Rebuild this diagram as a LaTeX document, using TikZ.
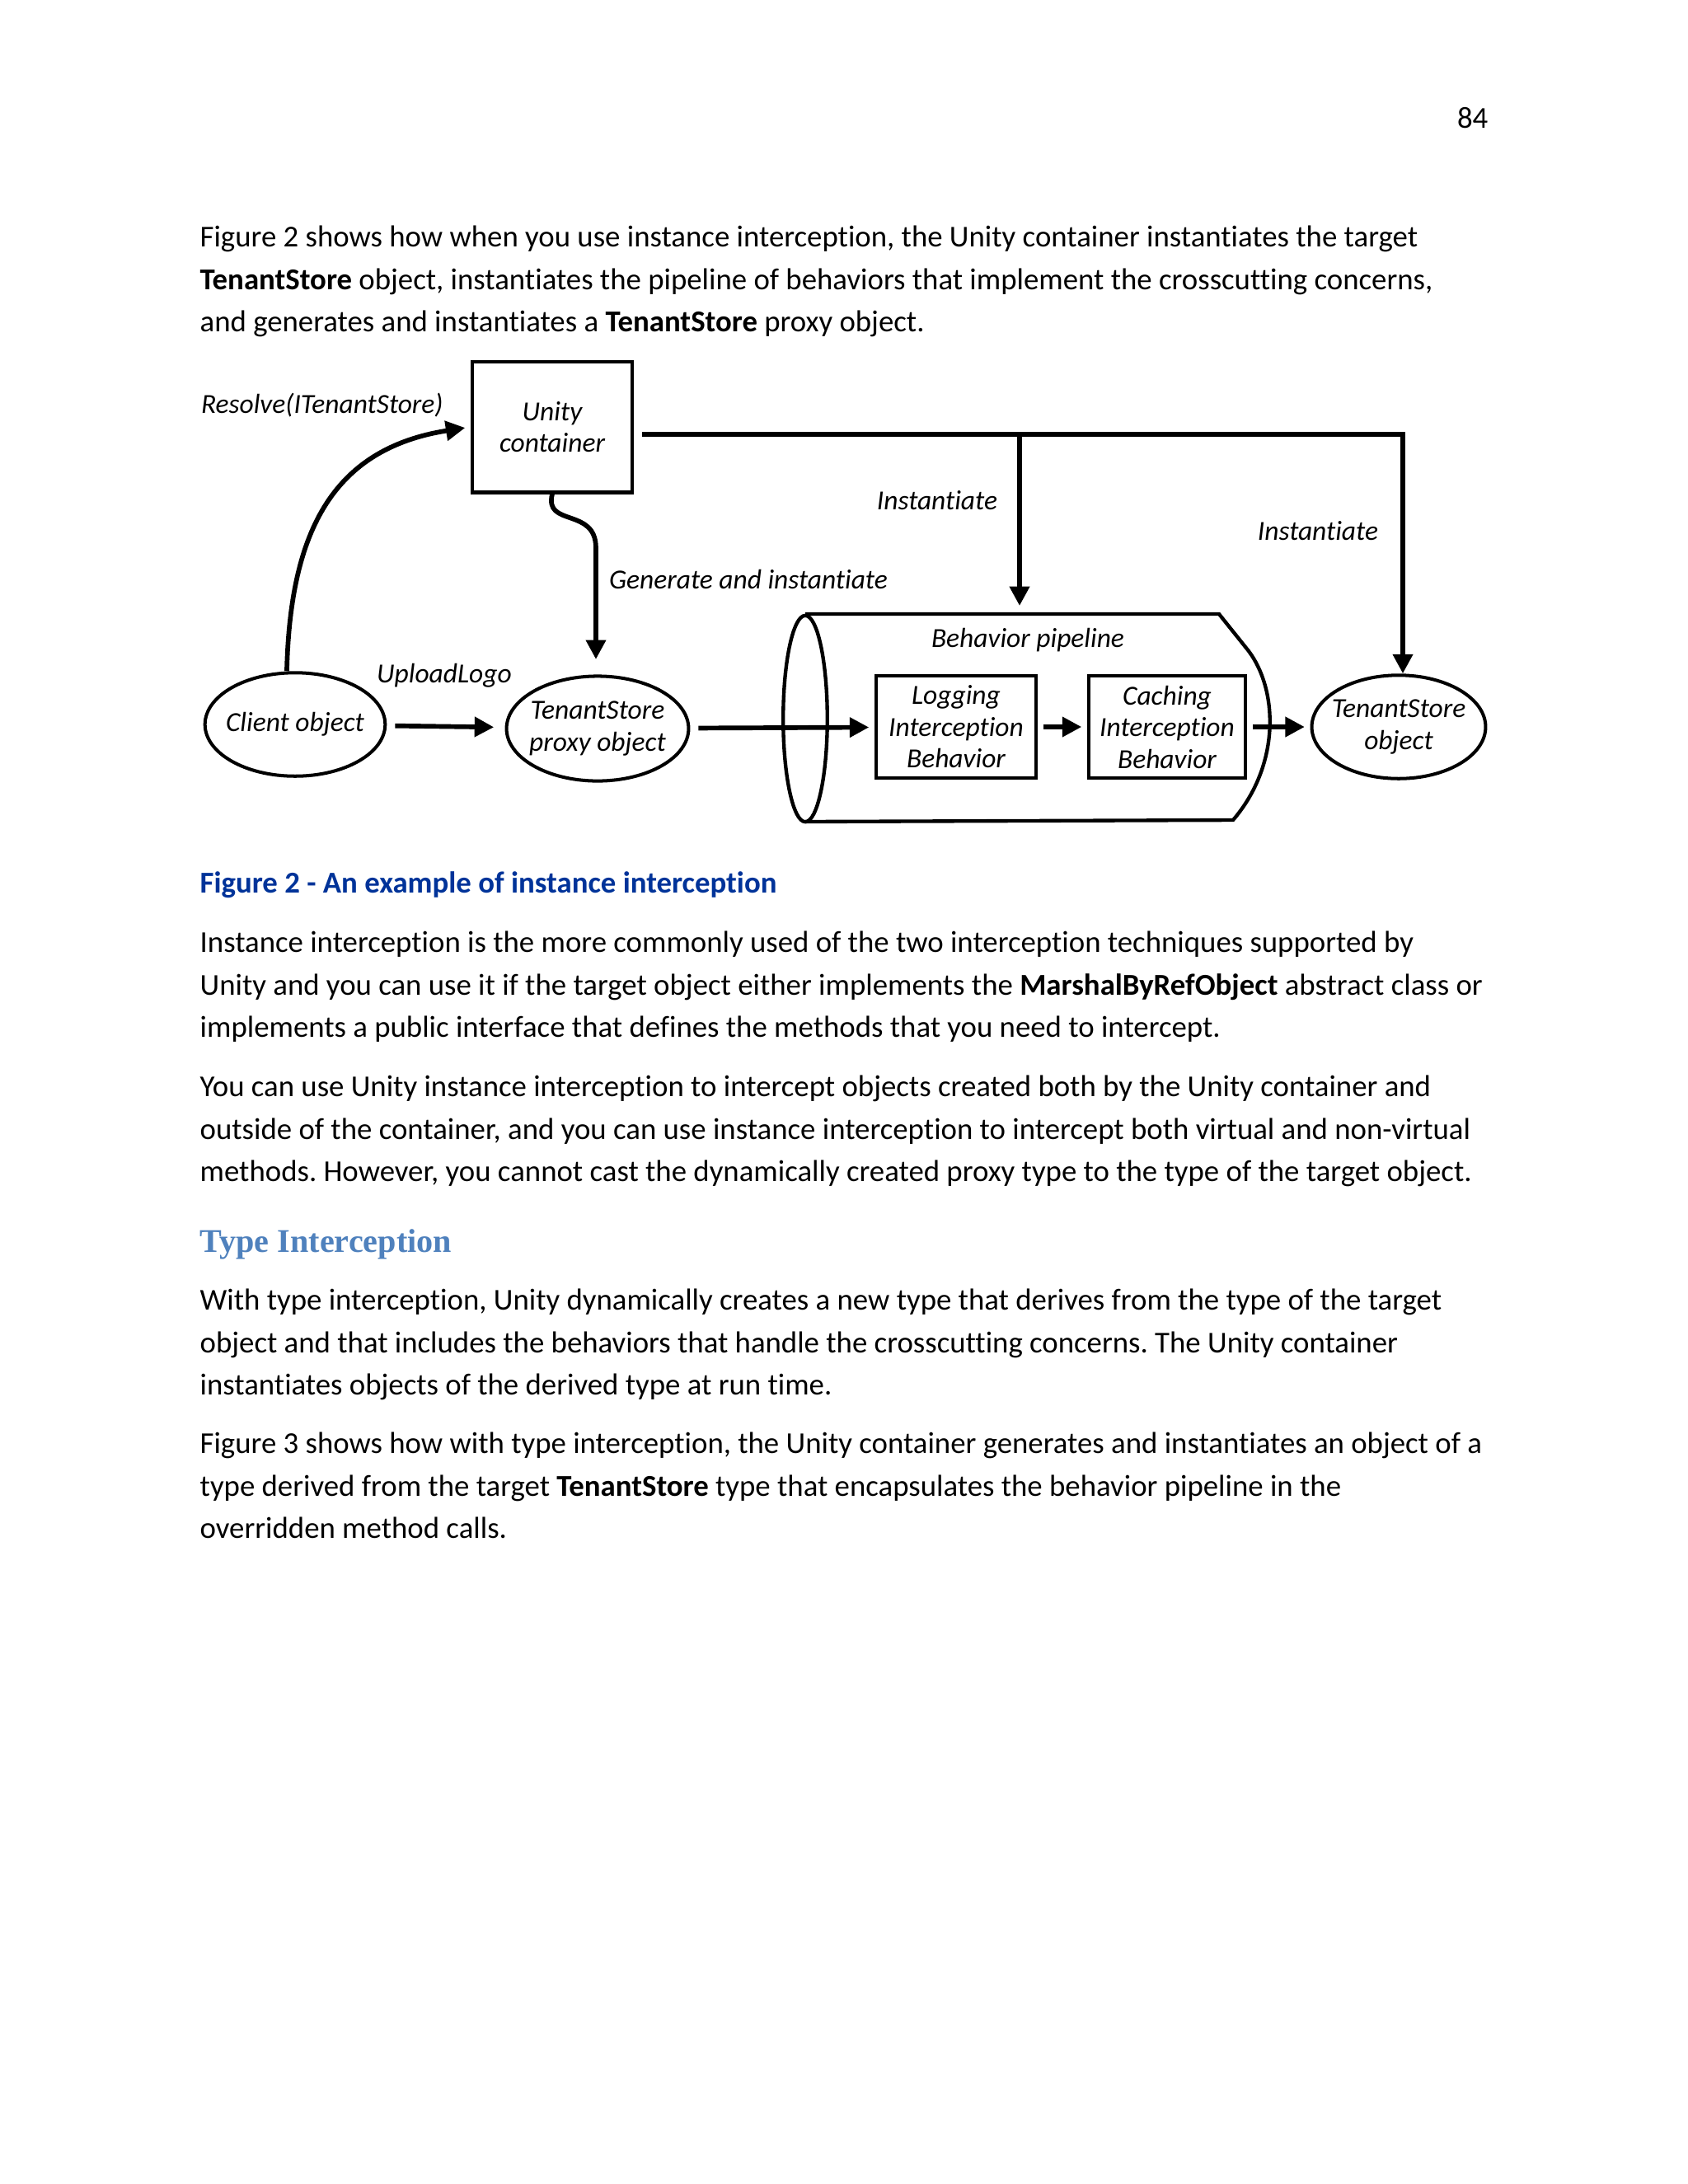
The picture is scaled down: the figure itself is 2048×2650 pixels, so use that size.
\documentclass[tikz,border=0pt]{standalone}
\usepackage{fontspec}
\setmainfont{Carlito}[Ligatures=NoCommon]
\newfontfamily\headfont{Liberation Serif}
\usetikzlibrary{arrows.meta,shapes.geometric}
\frenchspacing

\definecolor{captionblue}{RGB}{0,51,153}
\definecolor{headblue}{RGB}{79,129,189}

\newcommand{\bodyfont}{\fontsize{11pt}{15pt}\selectfont}
\newcommand{\sketchfont}{\fontsize{10pt}{11.5pt}\selectfont\itshape}

\tikzset{
  bodytext/.style={anchor=base west, inner sep=0pt, font=\bodyfont},
  sketch/.style={font=\sketchfont, align=center, inner sep=1pt},
  objnode/.style={draw, ellipse, line width=1.2pt, sketch, inner xsep=-2pt, inner ysep=0pt},
  boxnode/.style={draw, rectangle, line width=1.2pt, sketch},
  flow/.style={-{Triangle[length=7pt,width=7pt]}, line width=1.7pt},
}

\begin{document}
\begin{tikzpicture}[x=0.29883pt, y=-0.29883pt]
    \useasboundingbox (0,0) rectangle (2048,2650);

    % Numéro de page
    \node[anchor=base east, inner sep=0pt, font=\bodyfont] (pagenum) at (1806,155.5) {84};

    % Texte avant la figure
    \node[bodytext] (l1) at (242,299.5) {Figure 2 shows how when you use instance interception, the Unity container instantiates the target};
    \node[bodytext] (l2) at (242,351) {\textbf{TenantStore} object, instantiates the pipeline of behaviors that implement the crosscutting concerns,};
    \node[bodytext] (l3) at (242,402.5) {and generates and instantiates a \textbf{TenantStore} proxy object.};

    % Figure : conteneur Unity
    \node[boxnode, minimum width=58pt, minimum height=47.5pt] (unity) at (670,518) {Unity\\container};
    \node[sketch, anchor=west] (resolve) at (240,492) {Resolve(ITenantStore)};

    % Objets
    \node[objnode, minimum width=61.5pt, minimum height=37.5pt] (client) at (358,879) {Client object};
    \node[objnode, minimum width=66pt, minimum height=38pt] (proxy) at (725,884) {TenantStore\\proxy object};
    \node[objnode, minimum width=63pt, minimum height=37.5pt] (tsobj) at (1697,882) {TenantStore\\object};

    % Pipeline de comportements
    \draw[line width=1.3pt] (977,745) -- (1479,745) -- (1515,790)
        .. controls (1552,840) and (1552,930) .. (1496,995) -- (977,997);
    \draw[line width=1.3pt] (977,872) ellipse [x radius=8pt, y radius=37.4pt];
    \node[sketch] (pipelabel) at (1247,777) {Behavior pipeline};
    \node[boxnode, minimum width=58pt, minimum height=36.8pt] (logging) at (1160,882) {Logging\\Interception\\Behavior};
    \node[boxnode, minimum width=56.8pt, minimum height=37.2pt] (caching) at (1416,882) {Caching\\Interception\\Behavior};
    \coordinate (branch) at (1237,527);
    \coordinate (pipetop) at (1237,735);

    % Libellés
    \node[sketch] (inst1) at (1137,607) {Instantiate};
    \node[sketch] (inst2) at (1599,644) {Instantiate};
    \node[sketch, anchor=west] (generate) at (735,703) {Generate and instantiate};
    \node[sketch] (upload) at (539,820) {UploadLogo};

    % Flèches
    \draw[flow, shorten >=2pt] ([xshift=-3pt]client.north) .. controls (352,650) and (400,545) .. (unity.west);
    \draw[flow, shorten <=3pt] (unity.east |- branch) -| ([xshift=1.5pt]tsobj.north);
    \draw[flow] (branch) -- (pipetop);
    \draw[flow, shorten >=6pt] (unity.south) .. controls (660,640) and (723,615) .. (723,665) -- (723,820);
    \draw[flow, shorten <=3pt, shorten >=4pt] (client) -- (proxy);
    \draw[flow, shorten <=3pt, shorten >=2pt] (proxy) -- (logging);
    \draw[flow, shorten <=2pt, shorten >=2pt] (logging) -- (caching);
    \draw[flow, shorten <=2pt, shorten >=2pt] (caching) -- (tsobj);

    % Légende
    \node[bodytext, font=\bodyfont\bfseries, text=captionblue] (caption) at (242,1083.5) {Figure 2 - An example of instance interception};

    % Texte après la figure
    \node[bodytext] (l4) at (242,1155.5) {Instance interception is the more commonly used of the two interception techniques supported by};
    \node[bodytext] (l5) at (242,1207) {Unity and you can use it if the target object either implements the \textbf{MarshalByRefObject} abstract class or};
    \node[bodytext] (l6) at (242,1258.5) {implements a public interface that defines the methods that you need to intercept.};

    \node[bodytext] (l7) at (242,1330.5) {You can use Unity instance interception to intercept objects created both by the Unity container and};
    \node[bodytext] (l8) at (242,1382) {outside of the container, and you can use instance interception to intercept both virtual and non-virtual};
    \node[bodytext] (l9) at (242,1433.5) {methods. However, you cannot cast the dynamically created proxy type to the type of the target object.};

    % Titre
    \node[bodytext, font=\fontsize{12pt}{14pt}\selectfont\headfont\bfseries, text=headblue] (heading) at (242,1519.5) {Type Interception};

    \node[bodytext] (l10) at (242,1589.5) {With type interception, Unity dynamically creates a new type that derives from the type of the target};
    \node[bodytext] (l11) at (242,1641) {object and that includes the behaviors that handle the crosscutting concerns. The Unity container};
    \node[bodytext] (l12) at (242,1692.5) {instantiates objects of the derived type at run time.};

    \node[bodytext] (l13) at (242,1763.5) {Figure 3 shows how with type interception, the Unity container generates and instantiates an object of a};
    \node[bodytext] (l14) at (242,1815) {type derived from the target \textbf{TenantStore} type that encapsulates the behavior pipeline in the};
    \node[bodytext] (l15) at (242,1866.5) {overridden method calls.};
\end{tikzpicture}
\end{document}
